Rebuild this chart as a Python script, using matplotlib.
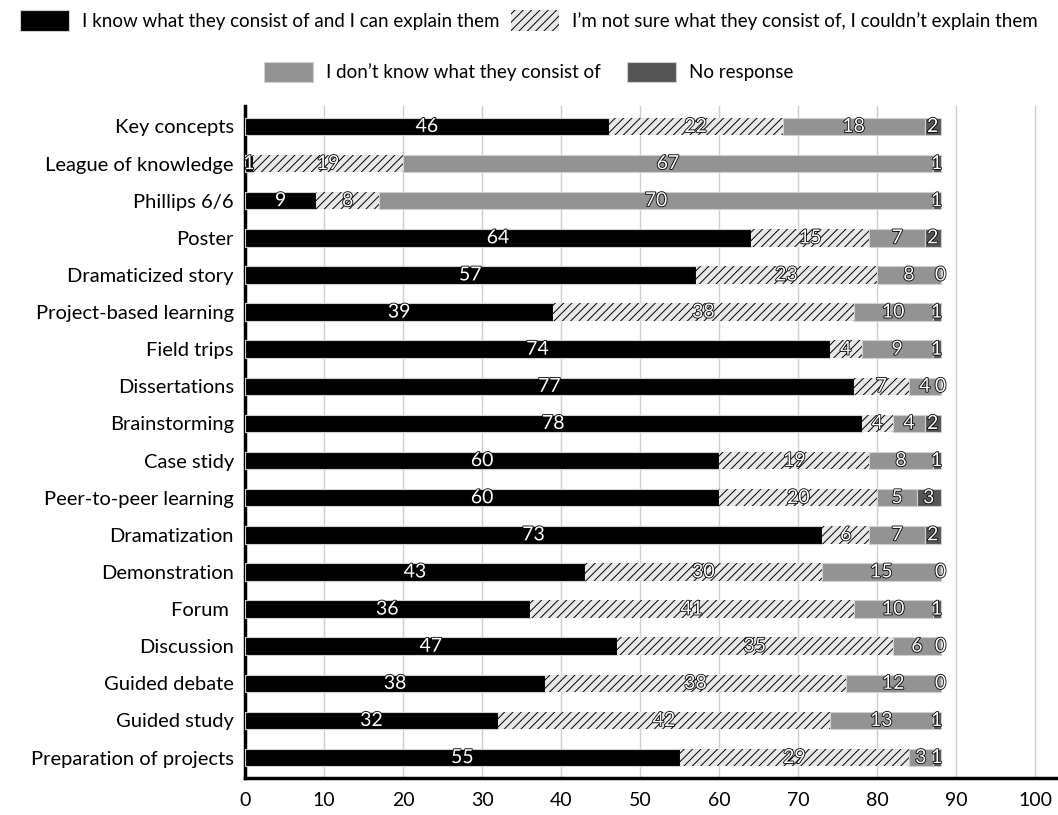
import matplotlib.pyplot as plt
import matplotlib.patheffects as pe
from matplotlib.patches import Patch
import numpy as np

plt.rcParams['font.family'] = ['Lato', 'DejaVu Sans']
plt.rcParams['hatch.linewidth'] = 0.7

categories = ['Key concepts', 'League of knowledge', 'Phillips 6/6', 'Poster',
              'Dramaticized story', 'Project-based learning', 'Field trips',
              'Dissertations', 'Brainstorming', 'Case stidy',
              'Peer-to-peer learning', 'Dramatization', 'Demonstration',
              'Forum ', 'Discussion', 'Guided debate', 'Guided study',
              'Preparation of projects']
know = [46, 1, 9, 64, 57, 39, 74, 77, 78, 60, 60, 73, 43, 36, 47, 38, 32, 55]
not_sure = [22, 19, 8, 15, 23, 38, 4, 7, 4, 19, 20, 6, 30, 41, 35, 38, 42, 29]
dont_know = [18, 67, 70, 7, 8, 10, 9, 4, 4, 8, 5, 7, 15, 10, 6, 12, 13, 3]
no_resp = [2, 1, 1, 2, 0, 1, 1, 0, 2, 1, 3, 2, 0, 1, 0, 0, 1, 1]

series = [
    ("I know what they consist of and I can explain them", know),
    ("I\u2019m not sure what they consist of, I couldn\u2019t explain them", not_sure),
    ("I don\u2019t know what they consist of", dont_know),
    ("No response", no_resp),
]
styles = [
    dict(facecolor='black', edgecolor='#d0d0d0', linewidth=0.8),
    dict(facecolor='#e8e8e8', edgecolor='black', linewidth=0, hatch='////'),
    dict(facecolor='#939393', edgecolor='#d0d0d0', linewidth=0.8),
    dict(facecolor='#555555', edgecolor='#d0d0d0', linewidth=0.8),
]

fig = plt.figure(figsize=(10.58, 8.15), dpi=100)
ax = fig.add_axes([0.2316, 0.0454, 0.7665, 0.8245])

y = np.arange(len(categories))
left = np.zeros(len(categories))
handles = []
outline = [pe.withStroke(linewidth=1.2, foreground='black')]
for (name, vals), st in zip(series, styles):
    vals = np.array(vals, dtype=float)
    ax.barh(y, vals, left=left, height=0.47, zorder=3, **st)
    handles.append(Patch(label=name, **st))
    for yi, l, v in zip(y, left, vals):
        ax.text(l + v / 2, yi, f"{int(v)}", ha='center', va='center',
                fontsize=14, color='white', path_effects=outline, zorder=5)
    left += vals

ax.set_xlim(0, 102.6)
ax.set_ylim(len(categories) - 0.45, -0.55)
ax.set_yticks(y)
ax.set_yticklabels(categories, fontsize=14.5)
ax.set_xticks(range(0, 101, 10))
ax.tick_params(axis='x', labelsize=14, length=0, pad=10)
ax.tick_params(axis='y', length=0, pad=8)
ax.grid(axis='x', color='#d0d0d0', linewidth=1, zorder=0)
for s in ['top', 'right']:
    ax.spines[s].set_visible(False)
ax.spines['left'].set_linewidth(2.5)
ax.spines['bottom'].set_linewidth(2.5)

fig.legend(handles=handles[:2], loc='center', bbox_to_anchor=(0.5, 0.975),
           ncol=2, frameon=False, fontsize=13.5, handlelength=2.6,
           handleheight=1.3, columnspacing=0.6, handletextpad=0.7,
           borderaxespad=0, borderpad=0)
fig.legend(handles=handles[2:], loc='center', bbox_to_anchor=(0.5, 0.912),
           ncol=2, frameon=False, fontsize=13.5, handlelength=2.6,
           handleheight=1.3, columnspacing=1.4, handletextpad=0.7,
           borderaxespad=0, borderpad=0)

fig.savefig('out.png', dpi=100)
